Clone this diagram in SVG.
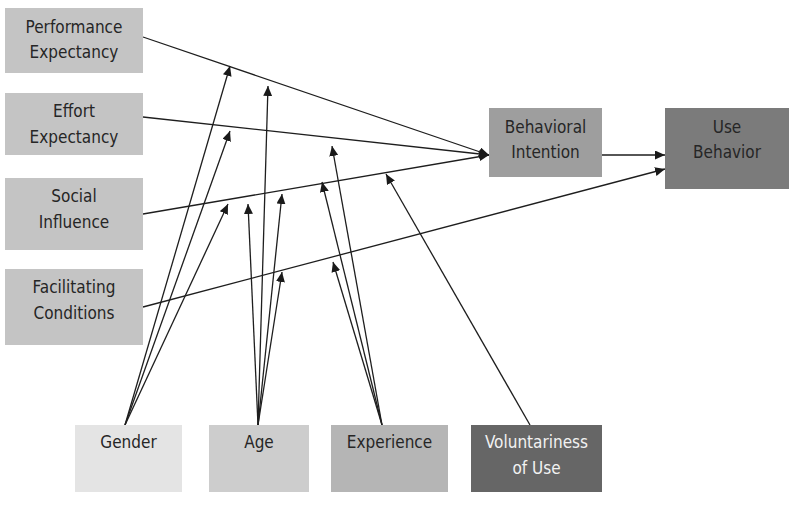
<svg xmlns="http://www.w3.org/2000/svg" width="797" height="510" viewBox="0 0 797 510">
<defs>
<style>
.t{font-family:"DejaVu Sans Condensed","DejaVu Sans","Liberation Sans",sans-serif;font-size:17px;fill:#262626;text-anchor:middle}
.w{fill:#f2f2f2}
.c{stroke:#1e1e1e;stroke-width:1.3;fill:none;marker-end:url(#ah)}
</style>
<marker id="ah" markerUnits="userSpaceOnUse" markerWidth="10" markerHeight="9" refX="10" refY="4.5" orient="auto">
<path d="M0,0 L10,4.5 L0,9 z" fill="#1a1a1a"/>
</marker>
</defs>
<rect width="797" height="510" fill="#ffffff"/>
<g id="connectors">
<line class="c" x1="143" y1="37" x2="489" y2="155"/>
<line class="c" x1="143" y1="117" x2="489" y2="155"/>
<line class="c" x1="143" y1="214" x2="489" y2="155"/>
<line class="c" x1="143" y1="307" x2="665" y2="169"/>
<line class="c" x1="602" y1="155" x2="665" y2="155"/>
<line class="c" x1="125" y1="425" x2="230" y2="66"/>
<line class="c" x1="125" y1="425" x2="230" y2="131"/>
<line class="c" x1="125" y1="425" x2="228" y2="204"/>
<line class="c" x1="258" y1="425" x2="268" y2="86"/>
<line class="c" x1="258" y1="425" x2="248" y2="204"/>
<line class="c" x1="258" y1="425" x2="282" y2="194"/>
<line class="c" x1="258" y1="425" x2="282" y2="272"/>
<line class="c" x1="382" y1="425" x2="332" y2="146"/>
<line class="c" x1="382" y1="425" x2="322" y2="182"/>
<line class="c" x1="382" y1="425" x2="333" y2="262"/>
<line class="c" x1="530" y1="425" x2="386" y2="174"/>
</g>
<g id="performance-expectancy">
<rect x="5" y="8" width="138" height="65" fill="#c4c4c4"/>
<text class="t" x="74" y="33">Performance</text>
<text class="t" x="74" y="58">Expectancy</text>
</g>
<g id="effort-expectancy">
<rect x="5" y="93" width="138" height="62" fill="#c4c4c4"/>
<text class="t" x="74" y="117">Effort</text>
<text class="t" x="74" y="143">Expectancy</text>
</g>
<g id="social-influence">
<rect x="5" y="178" width="138" height="72" fill="#c4c4c4"/>
<text class="t" x="74" y="202">Social</text>
<text class="t" x="74" y="228">Influence</text>
</g>
<g id="facilitating-conditions">
<rect x="5" y="269" width="138" height="76" fill="#c4c4c4"/>
<text class="t" x="74" y="293">Facilitating</text>
<text class="t" x="74" y="319">Conditions</text>
</g>
<g id="behavioral-intention">
<rect x="489" y="108" width="113" height="69" fill="#9e9e9e"/>
<text class="t" x="545.5" y="133">Behavioral</text>
<text class="t" x="545.5" y="158">Intention</text>
</g>
<g id="use-behavior">
<rect x="665" y="108" width="124" height="81" fill="#7b7b7b"/>
<text class="t" x="727" y="133">Use</text>
<text class="t" x="727" y="158">Behavior</text>
</g>
<g id="gender">
<rect x="75" y="425" width="107" height="67" fill="#e4e4e4"/>
<text class="t" x="128.5" y="448">Gender</text>
</g>
<g id="age">
<rect x="209" y="425" width="100" height="67" fill="#cdcdcd"/>
<text class="t" x="259" y="448">Age</text>
</g>
<g id="experience">
<rect x="331" y="425" width="117" height="67" fill="#b5b5b5"/>
<text class="t" x="389.5" y="448">Experience</text>
</g>
<g id="voluntariness-of-use">
<rect x="471" y="425" width="131" height="67" fill="#666666"/>
<text class="t w" x="536.5" y="448">Voluntariness</text>
<text class="t w" x="536.5" y="474">of Use</text>
</g>
</svg>
